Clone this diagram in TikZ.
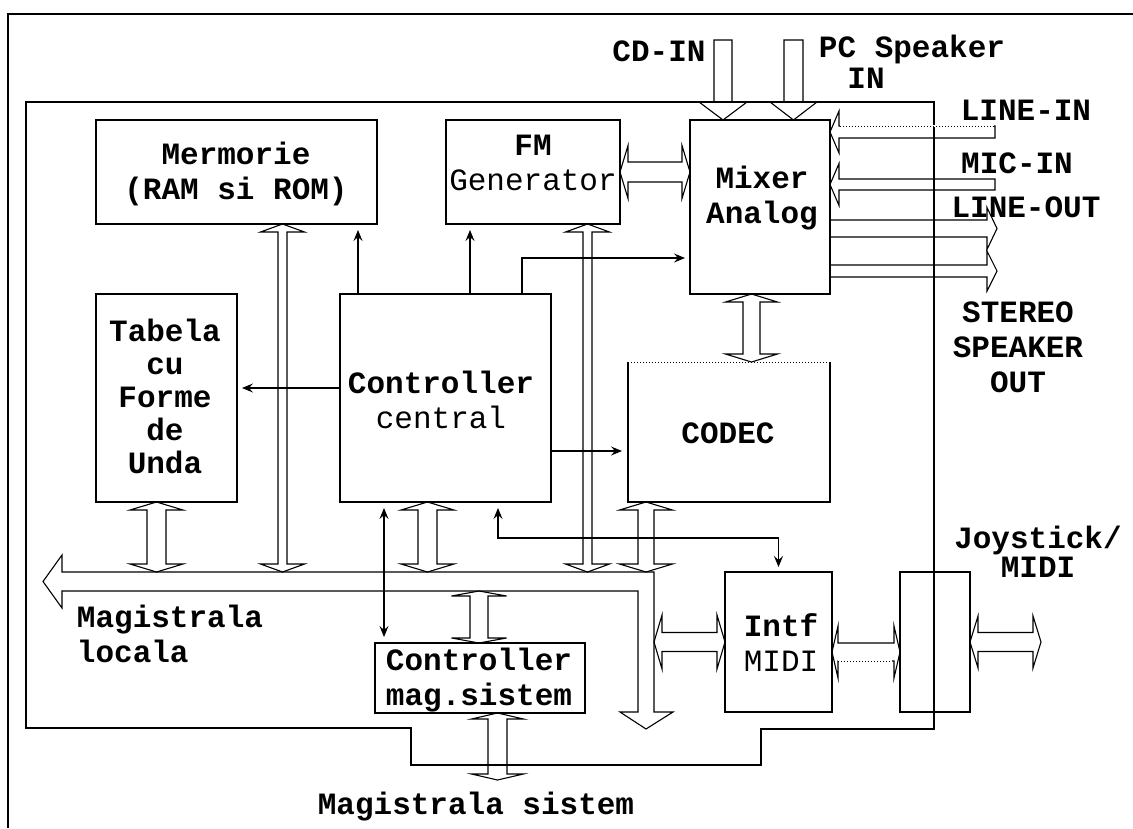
\documentclass[tikz,border=0pt]{standalone}
\usepackage{fontspec}
\setmonofont{Liberation Mono}
\usetikzlibrary{arrows.meta,calc}
\begin{document}
\begin{tikzpicture}[x=1pt,y=-1pt,line width=1.3pt,
  box/.style={draw,line width=1.3pt,anchor=north west,inner sep=0pt,outer sep=0pt},
  txt/.style={font=\ttfamily\bfseries\fontsize{31}{35}\selectfont,align=center,inner sep=0pt},
  blk/.style={line width=1.1pt,line join=miter},
  arr/.style={line width=1.1pt,-{Stealth[length=11pt,width=9pt,inset=4pt]}},
  arrb/.style={line width=1.1pt,{Stealth[length=11pt,width=9pt,inset=4pt]}-{Stealth[length=11pt,width=9pt,inset=4pt]}},
  vdbl/.style n args={3}{blk,to path={let \p1=(\tikztostart),\p2=(\tikztotarget),\n1={(\y2>\y1)*2-1} in
    (\x1-#1pt,\y1+\n1*#3pt) -- (\x1-#2pt,\y1+\n1*#3pt) -- (\x1,\y1) -- (\x1+#2pt,\y1+\n1*#3pt) -- (\x1+#1pt,\y1+\n1*#3pt)
    -- (\x1+#1pt,\y2-\n1*#3pt) -- (\x1+#2pt,\y2-\n1*#3pt) -- (\x1,\y2) -- (\x1-#2pt,\y2-\n1*#3pt) -- (\x1-#1pt,\y2-\n1*#3pt) -- cycle}},
  hdbl/.style n args={3}{blk,to path={let \p1=(\tikztostart),\p2=(\tikztotarget),\n1={(\x2>\x1)*2-1} in
    (\x1+\n1*#3pt,\y1-#1pt) -- (\x1+\n1*#3pt,\y1-#2pt) -- (\x1,\y1) -- (\x1+\n1*#3pt,\y1+#2pt) -- (\x1+\n1*#3pt,\y1+#1pt)
    -- (\x2-\n1*#3pt,\y1+#1pt) -- (\x2-\n1*#3pt,\y1+#2pt) -- (\x2,\y1) -- (\x2-\n1*#3pt,\y1-#2pt) -- (\x2-\n1*#3pt,\y1-#1pt) -- cycle}},
  vsgl/.style n args={3}{blk,to path={let \p1=(\tikztostart),\p2=(\tikztotarget),\n1={(\y2>\y1)*2-1} in
    (\x1-#1pt,\y1) -- (\x1-#1pt,\y2-\n1*#3pt) -- (\x1-#2pt,\y2-\n1*#3pt) -- (\x1,\y2) -- (\x1+#2pt,\y2-\n1*#3pt) -- (\x1+#1pt,\y2-\n1*#3pt) -- (\x1+#1pt,\y1) -- cycle}},
  hsgl/.style n args={3}{blk,to path={let \p1=(\tikztostart),\p2=(\tikztotarget),\n1={(\x2>\x1)*2-1} in
    (\x1,\y1-#1pt) -- (\x2-\n1*#3pt,\y1-#1pt) -- (\x2-\n1*#3pt,\y1-#2pt) -- (\x2,\y1) -- (\x2-\n1*#3pt,\y1+#2pt) -- (\x2-\n1*#3pt,\y1+#1pt) -- (\x1,\y1+#1pt) -- cycle}}
]
\useasboundingbox (0,0) rectangle (1133,828);
\fill[white] (0,0) rectangle (1133,828);

% frames
\draw (8,828) -- (8,14) -- (1133,14);
\draw (26,102) -- (934,102) -- (934,729) -- (761,729) -- (761,765) -- (411,765) -- (411,728) -- (26,728) -- cycle;

% boxes
\node[box,minimum width=281pt,minimum height=104pt] (mem) at (96,120) {};
\node[box,minimum width=174pt,minimum height=104pt] (fm) at (446,120) {};
\node[box,minimum width=140pt,minimum height=174pt] (mix) at (690,120) {};
\node[box,minimum width=141pt,minimum height=208pt] (tab) at (96,294) {};
\node[box,minimum width=211pt,minimum height=208pt] (ctrl) at (340,294) {};
\node[box,draw=none,minimum width=202pt,minimum height=140pt] (codec) at (628,362) {};
\draw (codec.north east) -- (codec.south east) -- (codec.south west) -- (codec.north west);
\draw[line width=1pt,dotted] (codec.north west) -- (codec.north east);
\node[box,minimum width=107pt,minimum height=140pt] (intf) at (725,572) {};
\node[box,minimum width=70pt,minimum height=140pt] (joy) at (900,572) {};
\node[box,minimum width=210pt,minimum height=70pt] (mag) at (375,643) {};

% helper coordinates
\coordinate (busT) at (0,572);
\coordinate (busB) at (0,591);
\coordinate (busR) at (654,0);
\coordinate (sysend) at (0,780);
\coordinate (joyout) at (1041,0);
\coordinate (cdtop) at (723,40);
\coordinate (pctop) at (793.5,40);
\coordinate (lineinR) at (995,132);
\coordinate (micinR) at (995,184.5);
\coordinate (outR) at (997,0);

% local bus
\draw[blk] (43,581.5) -- (62,555) -- (62,572) -- (654,572) -- (654,712) -- (673,712) -- (646,729) -- (620,712) -- (638,712) -- (638,591) -- (62,591) -- (62,608) -- cycle;

% block arrows to bus
\draw[vdbl={4.5}{22}{8}] ([xshift=46pt]mem.south) to (busT);
\draw[vdbl={4.5}{22}{8}] ([xshift=54.5pt]fm.south) to (busT);
\draw[vdbl={9.5}{26.5}{8}] ([xshift=-10pt]tab.south) to (busT);
\draw[vdbl={9.5}{26.5}{8}] ([xshift=-18pt]ctrl.south) to (busT);
\draw[vdbl={8}{26.5}{8}] ([xshift=-83pt]codec.south) to (busT);
\draw[vdbl={9}{27.5}{5}] ([xshift=-1pt]mag.north) to (busB);
\draw[vdbl={9.5}{26}{6}] ([xshift=17.5pt]mag.south) to (sysend);
\draw[vdbl={8.5}{26}{8}] ([xshift=-8.5pt]mix.south) to (codec.north);
\draw[hdbl={10}{26.5}{8}] (fm.east) to (mix.west);
\draw[hdbl={9.5}{27}{8}] (intf.west) to (busR);
\draw[hdbl={9}{26}{6}] ([yshift=-10pt]intf.east) to (joy.west);
\draw[white,line width=2pt] (838,661) -- (892,661);
\draw[line width=1pt,dotted] (838,661) -- (892,661);
\draw[hdbl={9.5}{26}{8}] (joy.east) to (joyout);

% inputs to mixer
\draw[vsgl={9}{24}{18}] (cdtop) to (mix.north);
\draw[vsgl={9.5}{23.5}{18}] (pctop) to (mix.north);
\draw[hsgl={6}{21}{9}] (lineinR) to (mix.east);
\draw[white,line width=2pt] (840,126) -- (994,126);
\draw[line width=1pt,dotted] (840,126) -- (994,126);
\draw[hsgl={5.5}{21}{9}] (micinR) to (mix.east);
\draw[hsgl={8.5}{21}{10}] ([yshift=-21.5pt]mix.east) to (outR);
\draw[hsgl={6}{20}{10}] ([yshift=-64pt]mix.east) to (outR);

% control lines
\coordinate (c1) at ([xshift=-87.5pt]ctrl.north);
\draw[arr,shorten >=6pt] (c1) -- (c1 |- mem.south);
\coordinate (c2) at ([xshift=24.5pt]ctrl.north);
\draw[arr,shorten >=6pt] (c2) -- (c2 |- fm.south);
\coordinate (c3) at ([xshift=76.5pt]ctrl.north);
\draw[arr,shorten >=5pt] (c3) |- ([yshift=-51pt]mix.west);
\coordinate (c4) at ([yshift=10pt]ctrl.west);
\draw[arr,shorten >=5pt] (c4) -- (c4 -| tab.east);
\coordinate (c5) at ([yshift=-53pt]ctrl.east);
\draw[arr,shorten >=6pt] (c5) -- (c5 -| codec.west);
\coordinate (c6) at ([xshift=-61.5pt]ctrl.south);
\draw[arrb,shorten <=6pt,shorten >=6pt] (c6) -- (c6 |- mag.north);
\coordinate (c7) at ([xshift=52.5pt]ctrl.south);
\draw[arrb,shorten <=6pt,shorten >=5pt] (c7) -- ++(0,36) -| (intf.north);

% texts
\node[txt] (memT) at (236,174) {Mermorie\\(RAM si ROM)};
\node[txt] (fmT) at (533,163) {FM\\{\mdseries Generator}};
\node[txt] (mixT) at (762,198) {Mixer\\Analog};
\node[txt,font=\ttfamily\bfseries\fontsize{31}{33}\selectfont] (tabT) at (165,396) {Tabela\\cu\\Forme\\de\\Unda};
\node[txt] (ctrlT) at (441,400) {Controller\\{\mdseries central}};
\node[txt] (codecT) at (728,433) {CODEC};
\node[txt] (intfT) at (781,643) {Intf\\{\mdseries MIDI}};
\node[txt] (magT) at (479,680) {Controller\\mag.sistem};
\node[txt] (cdT) at (659,51) {CD-IN};
\node[txt] (pcT) at (912,49) {PC Speaker};
\node[txt] (pcinT) at (866,78) {IN};
\node[txt] (lineinT) at (1026,110) {LINE-IN};
\node[txt] (micinT) at (1017,163) {MIC-IN};
\node[txt] (lineoutT) at (1026,207) {LINE-OUT};
\node[txt] (stereoT) at (1018,347) {STEREO\\SPEAKER\\OUT};
\node[txt,font=\ttfamily\bfseries\fontsize{31}{29}\selectfont] (joyT) at (1038,552) {Joystick/\\MIDI};
\node[txt,align=left] (locT) at (170,634) {Magistrala\\locala};
\node[txt] (sysT) at (476,807) {Magistrala sistem};
\end{tikzpicture}
\end{document}
